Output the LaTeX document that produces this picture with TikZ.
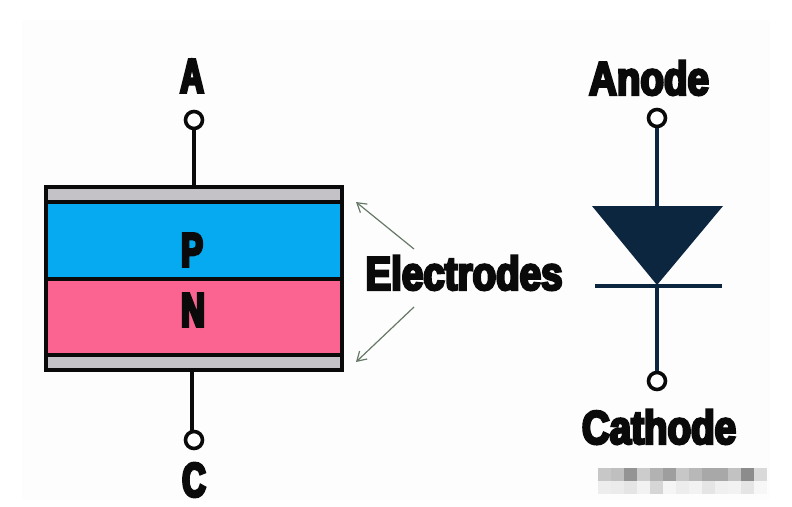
\documentclass[tikz,border=0pt]{standalone}
\usepackage{fontspec}
\setmainfont{Liberation Sans}
\newfontfamily\heavyfont[FakeBold=5.5,FakeStretch=0.82]{Liberation Sans Bold}
\newfontfamily\narrowfont[FakeBold=6,FakeStretch=0.68]{Liberation Sans Bold}
\usetikzlibrary{arrows.meta}
\definecolor{ink}{HTML}{0A0A0A}
\definecolor{navy}{HTML}{0C2640}
\definecolor{plate}{HTML}{C4C2C6}
\definecolor{ptype}{HTML}{05AAF0}
\definecolor{ntype}{HTML}{FB6390}
\definecolor{paper}{HTML}{FDFDFE}
\tikzset{
  x=1pt,y=-1pt,
  layer/.style={draw=ink,line width=3.2pt,minimum width=296pt,inner sep=0pt,outer sep=0pt,anchor=north west},
  terminal/.style={circle,draw=ink,fill=white,line width=3.6pt,minimum size=17pt,inner sep=0pt},
  dterminal/.style={terminal,draw=ink},
  wire/.style={draw=ink,line width=3.5pt},
  dwire/.style={draw=navy,line width=3.8pt},
  big/.style={font=\heavyfont\fontsize{47}{47}\selectfont,text=ink,inner sep=0pt},
  letter/.style={font=\narrowfont\fontsize{48}{48}\selectfont,text=ink,inner sep=0pt},
  pointer/.style={draw=black!65!green!20!gray,line width=1.2pt,-{Straight Barb[length=9pt,width=11pt,line width=1.2pt]}},
  blur/.style={draw=none,inner sep=0pt,minimum width=13pt,minimum height=13pt,anchor=north west}
}
\begin{document}
\begin{tikzpicture}
\useasboundingbox (0,0) rectangle (792,506);
\fill[white] (0,0) rectangle (792,506);
\fill[paper] (22,20) rectangle (770,500);
% device stack
\node[layer,fill=plate,minimum height=15pt] (top) at (46,187) {};
\node[layer,fill=ptype,minimum height=77pt] (pl) at (46,202) {};
\node[layer,fill=ntype,minimum height=76pt] (nl) at (46,279) {};
\node[layer,fill=plate,minimum height=15pt] (bot) at (46,355) {};
\node[letter] (plabel) at (192,250) {P};
\node[letter] (nlabel) at (193,310) {N};
\node[terminal] (ta) at (194,120) {};
\node[terminal] (tc) at (194,440) {};
\coordinate (topa) at (194,187);
\coordinate (botc) at (192,370);
\coordinate (tcw) at (192,432);
\draw[wire] (ta) -- (topa);
\draw[wire] (tcw) -- (botc);
\node[letter] (la) at (192,76) {A};
\node[letter] (lc) at (194,480) {C};
% electrodes
\node[big] (el) at (464,273) {Electrodes};
\coordinate (a1s) at (414,249);
\coordinate (a1e) at (356,202);
\coordinate (a2s) at (414,307);
\coordinate (a2e) at (356,362);
\draw[pointer] (a1s) -- (a1e);
\draw[pointer] (a2s) -- (a2e);
% diode symbol
\node[big] (an) at (649,78) {Anode};
\node[dterminal] (td1) at (657,118) {};
\node[dterminal] (td2) at (657,381) {};
\coordinate (tri) at (657,207);
\coordinate (barc) at (657,286);
\coordinate (barl) at (595,286);
\coordinate (barr) at (722,286);
\fill[navy] (592,206) -- (723,206) -- (657,285) -- cycle;
\draw[dwire] (td1) -- (tri);
\draw[dwire] (barl) -- (barr);
\draw[dwire] (barc) -- (td2);
\node[big] (ca) at (659,427) {Cathode};
% blurred mosaic
\foreach \px/\py/\shade in {598/468/22,611/468/25,624/468/42,637/468/20,650/468/30,663/468/38,676/468/22,689/468/28,702/468/34,715/468/34,728/468/24,741/468/45,754/468/15,
598/481/7,611/481/8,624/481/10,637/481/5,650/481/16,663/481/4,676/481/7,689/481/5,702/481/10,715/481/6,728/481/5,741/481/10,754/481/3}
  \node[blur,fill=black!\shade] (m\px-\py) at (\px,\py) {};
\end{tikzpicture}
\end{document}
